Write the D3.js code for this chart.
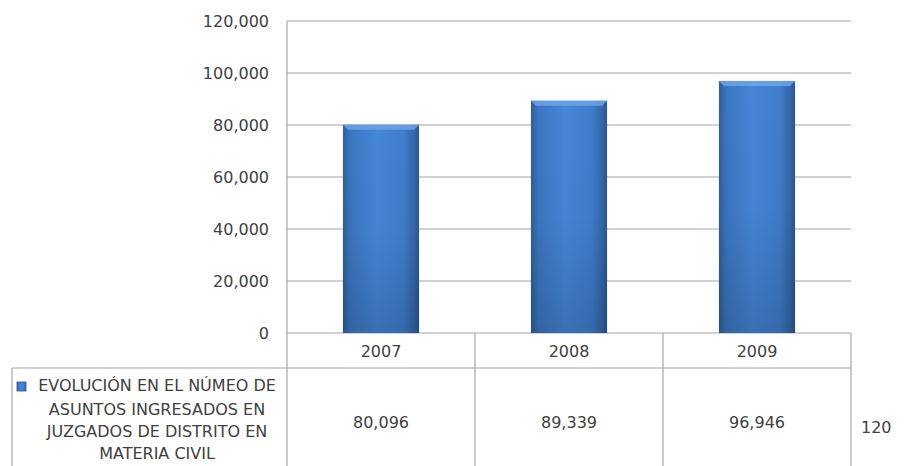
<!DOCTYPE html>
<html>
<head>
<meta charset="utf-8">
<script src="https://cdn.jsdelivr.net/npm/d3@7"></script>
<style>
  html, body { margin: 0; padding: 0; background: #fff; }
  svg { display: block; font-family: "DejaVu Sans", sans-serif; }
</style>
</head>
<body>
<svg id="chart" width="911" height="466"></svg>
<script>
(function () {
  'use strict';

  const years = ['2007', '2008', '2009'];
  const values = [80096, 89339, 96946];
  const yTicks = [0, 20000, 40000, 60000, 80000, 100000, 120000];
  const seriesLines = ['EVOLUCIÓN EN EL NÚMEO DE', 'ASUNTOS INGRESADOS EN', 'JUZGADOS DE DISTRITO EN', 'MATERIA CIVIL'];
  const strayLabel = '120';

  const svg = d3.select('#chart');
  const H = 466;
  const plot = { left: 287, right: 851, top: 21, bottom: 333 };
  const tableLeft = 12, headBottom = 368;
  const textCol = '#404040', gridCol = '#a6a6a6';

  const x = d3.scaleBand().domain(years).range([plot.left, plot.right]);
  const y = d3.scaleLinear().domain([0, 120000]).range([plot.bottom, plot.top]);
  const bw = x.bandwidth() * 0.405;
  const barX = (i) => x(years[i]) + x.bandwidth() / 2 - bw / 2;

  // gradients
  const defs = svg.append('defs');
  const gh = defs.append('linearGradient').attr('id', 'barH').attr('x1', 0).attr('x2', 1).attr('y1', 0).attr('y2', 0);
  [[0, '#305e99'], [0.1, '#3b76c1'], [0.45, '#4586d6'], [0.8, '#3f7dcc'], [0.94, '#3466a6'], [1, '#2c558c']]
    .forEach(([o, c]) => gh.append('stop').attr('offset', o).attr('stop-color', c));
  const gv = defs.append('linearGradient').attr('id', 'barV').attr('x1', 0).attr('x2', 0).attr('y1', 0).attr('y2', 1);
  [[0, '#000', 0], [0.5, '#000', 0.02], [1, '#000', 0.16]]
    .forEach(([o, c, a]) => gv.append('stop').attr('offset', o).attr('stop-color', c).attr('stop-opacity', a));

  // gridlines
  svg.append('g').selectAll('line').data(yTicks).enter().append('line')
    .attr('x1', plot.left).attr('x2', plot.right)
    .attr('y1', (d) => y(d)).attr('y2', (d) => y(d))
    .attr('stroke', gridCol).attr('stroke-width', 1.2);

  // y axis line
  svg.append('line').attr('x1', plot.left).attr('x2', plot.left)
    .attr('y1', plot.top).attr('y2', H).attr('stroke', gridCol).attr('stroke-width', 1.2);

  // tick labels
  svg.append('g').selectAll('text').data(yTicks).enter().append('text')
    .attr('x', 269).attr('y', (d) => y(d)).attr('dy', '0.35em')
    .attr('text-anchor', 'end').attr('fill', textCol).style('font-size', '16px')
    .text((d) => d3.format(',')(d));

  // bars
  const bars = svg.append('g').selectAll('g').data(values).enter().append('g');
  bars.append('rect')
    .attr('x', (d, i) => barX(i)).attr('y', (d) => y(d))
    .attr('width', bw).attr('height', (d) => y(0) - y(d))
    .attr('fill', 'url(#barH)');
  bars.append('rect')
    .attr('x', (d, i) => barX(i)).attr('y', (d) => y(d))
    .attr('width', bw).attr('height', (d) => y(0) - y(d))
    .attr('fill', 'url(#barV)');
  // top bevel
  bars.append('path')
    .attr('d', (d, i) => {
      const x0 = barX(i), x1 = x0 + bw, yt = y(d), b = 5;
      return `M${x0},${yt}L${x1},${yt}L${x1 - b},${yt + b}L${x0 + b},${yt + b}Z`;
    })
    .attr('fill', '#70a6ea').attr('opacity', 0.8);

  // data table lines
  const tg = svg.append('g').attr('stroke', gridCol).attr('stroke-width', 1.2);
  tg.append('line').attr('x1', tableLeft).attr('x2', plot.right).attr('y1', headBottom).attr('y2', headBottom);
  tg.append('line').attr('x1', tableLeft).attr('x2', tableLeft).attr('y1', headBottom).attr('y2', H);
  years.forEach((yr) => {
    const xr = x(yr) + x.bandwidth();
    tg.append('line').attr('x1', xr).attr('x2', xr).attr('y1', plot.bottom).attr('y2', H);
  });

  // header years
  svg.append('g').selectAll('text').data(years).enter().append('text')
    .attr('x', (d) => x(d) + x.bandwidth() / 2).attr('y', (plot.bottom + headBottom) / 2 + 1).attr('dy', '0.35em')
    .attr('text-anchor', 'middle').attr('fill', textCol).style('font-size', '16px').text((d) => d);

  // values
  svg.append('g').selectAll('text').data(values).enter().append('text')
    .attr('x', (d, i) => x(years[i]) + x.bandwidth() / 2).attr('y', 422).attr('dy', '0.35em')
    .attr('text-anchor', 'middle').attr('fill', textCol).style('font-size', '16px')
    .text((d) => d3.format(',')(d));

  // series label
  const lineYs = [385, 409, 431, 453];
  const labCx = 157;
  svg.append('g').selectAll('text').data(seriesLines).enter().append('text')
    .attr('x', labCx).attr('y', (d, i) => lineYs[i]).attr('dy', '0.35em')
    .attr('text-anchor', 'middle').attr('fill', textCol).style('font-size', '16px')
    .text((d) => d);
  // legend key
  svg.append('rect').attr('x', 17).attr('y', 382).attr('width', 9).attr('height', 9)
    .attr('fill', 'url(#barH)').attr('stroke', '#2a5690').attr('stroke-width', 0.8);

  svg.append('text').attr('x', 861).attr('y', 427).attr('dy', '0.35em')
    .attr('fill', textCol).style('font-size', '16px').text(strayLabel);
})();
</script>
</body>
</html>
